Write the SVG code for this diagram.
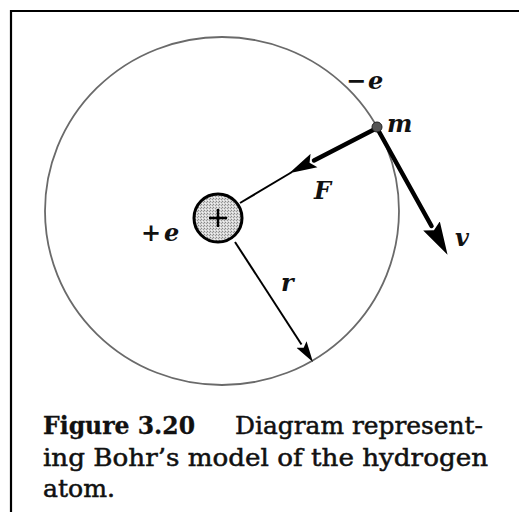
<svg xmlns="http://www.w3.org/2000/svg" width="519" height="512" viewBox="0 0 519 512">
  <style>
    .lbl { font-family: "DejaVu Serif", "Liberation Serif", serif; font-style: italic; font-weight: bold; font-size: 24px; fill: #111; }
    .cap { font-family: "DejaVu Serif", "Liberation Serif", serif; font-size: 24px; fill: #111; stroke: #111; stroke-width: 0.5; }
    .capb { font-weight: bold; stroke-width: 0.3; }
    .orbit { fill: none; stroke: #6a6a6a; stroke-width: 1.8; }
    .thick { stroke: #000; stroke-width: 4.5; stroke-linecap: round; fill: none; }
    .thin { stroke: #000; stroke-width: 2; fill: none; }
  </style>
  <defs>
    <pattern id="stipple" patternUnits="userSpaceOnUse" width="3" height="3">
      <rect width="3" height="3" fill="#d6d6d6"/>
      <rect x="0" y="0" width="1" height="1" fill="#888"/>
      <rect x="2" y="1" width="1" height="1" fill="#999"/>
      <rect x="1" y="2" width="1" height="1" fill="#f2f2f2"/>
    </pattern>
    <marker id="headF" markerUnits="userSpaceOnUse" viewBox="0 -8 28 16" markerWidth="28" markerHeight="16" refX="0" refY="0" orient="auto">
      <path d="M0,-7.5 L28,0 L0,7.5 L5,0 Z" fill="#000"/>
    </marker>
    <marker id="headV" markerUnits="userSpaceOnUse" viewBox="0 -10 33 20" markerWidth="33" markerHeight="20" refX="0" refY="0" orient="auto">
      <path d="M0,-9.5 L33,0 L0,9.5 L5,0 Z" fill="#000"/>
    </marker>
    <marker id="headR" markerUnits="userSpaceOnUse" viewBox="0 -7 21 14" markerWidth="21" markerHeight="14" refX="0" refY="0" orient="auto">
      <path d="M0,-6 L21,0 L0,6 L4,0 Z" fill="#000"/>
    </marker>
  </defs>

  <g id="frame">
    <path d="M11,512 L11,11 L519,11" fill="none" stroke="#000" stroke-width="2.2"/>
  </g>

  <g id="orbit">
    <ellipse class="orbit" cx="222" cy="211" rx="177" ry="174"/>
  </g>

  <g id="connectors">
    <line class="thin" x1="240" y1="203" x2="292" y2="172"/>
    <line class="thick" x1="377" y1="128" x2="314" y2="160.5" marker-end="url(#headF)"/>
    <line class="thick" x1="377" y1="128" x2="431.5" y2="226" marker-end="url(#headV)"/>
    <line class="thin" x1="235" y1="242" x2="301.5" y2="344.5" marker-end="url(#headR)"/>
  </g>

  <g id="nucleus">
    <circle cx="218" cy="218" r="24" fill="url(#stipple)" stroke="#000" stroke-width="3"/>
    <path d="M209,218 L227,218 M218,209 L218,227" stroke="#000" stroke-width="2.4"/>
    <text class="lbl" x="141" y="241">+<tspan dx="3">e</tspan></text>
  </g>

  <g id="electron">
    <circle cx="377" cy="127" r="5" fill="#555" stroke="#222" stroke-width="1"/>
    <text class="lbl" x="346" y="89">−<tspan dx="2">e</tspan></text>
    <text class="lbl" x="387" y="132">m</text>
  </g>

  <g id="labels">
    <text class="lbl" x="314" y="199">F</text>
    <text class="lbl" x="455" y="246">v</text>
    <text class="lbl" x="281" y="291">r</text>
  </g>

  <g id="caption">
    <text class="cap capb" x="43" y="434" textLength="152" lengthAdjust="spacingAndGlyphs">Figure 3.20</text>
    <text class="cap" x="235" y="434" textLength="248" lengthAdjust="spacingAndGlyphs">Diagram represent-</text>
    <text class="cap" x="43" y="466" textLength="445" lengthAdjust="spacingAndGlyphs">ing Bohr’s model of the hydrogen</text>
    <text class="cap" x="43" y="497" textLength="72" lengthAdjust="spacingAndGlyphs">atom.</text>
  </g>
</svg>
